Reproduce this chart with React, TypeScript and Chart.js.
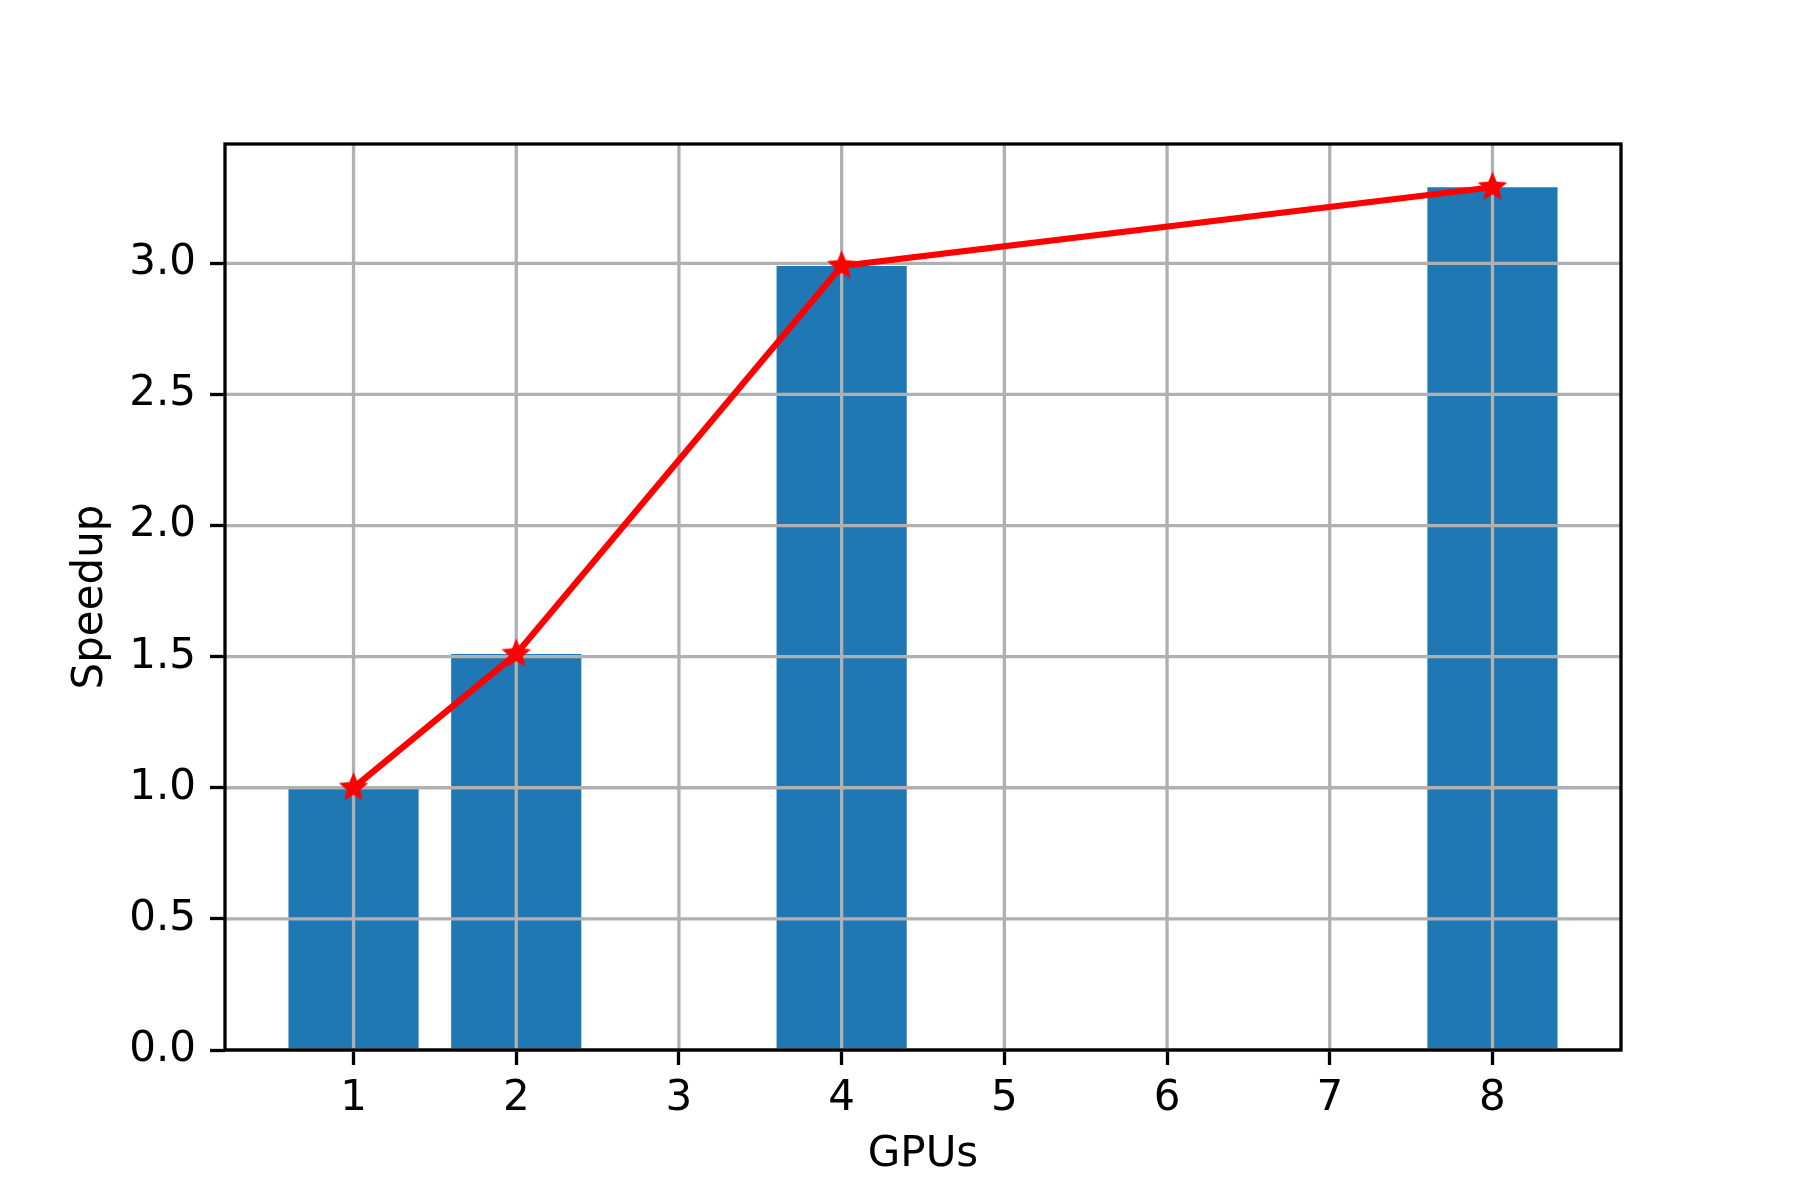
import React, { useEffect, useRef } from "react";
import { Chart, registerables } from "chart.js";

Chart.register(...registerables);

// ---- data ----
const gpus = [1, 2, 4, 8];
const barSpeedup = [1.0, 1.51, 2.99, 3.29];
const lineSpeedup = [1.0, 1.51, 2.99, 3.29];
const xTickValues = [1, 2, 3, 4, 5, 6, 7, 8];
const yTickValues = [0, 0.5, 1.0, 1.5, 2.0, 2.5, 3.0];
const xLabel = "GPUs";
const yLabel = "Speedup";

const FONT = "'DejaVu Sans', 'Liberation Sans', sans-serif";
const LW = 3.3;

function makeStar(color: string, outerR: number, innerR: number) {
  const size = Math.ceil(outerR * 2 + 4);
  const c = document.createElement("canvas");
  c.width = size;
  c.height = size;
  const ctx = c.getContext("2d")!;
  ctx.translate(size / 2, size / 2);
  ctx.beginPath();
  for (let i = 0; i < 10; i++) {
    const r = i % 2 === 0 ? outerR : innerR;
    const a = -Math.PI / 2 + (i * Math.PI) / 5;
    ctx.lineTo(r * Math.cos(a), r * Math.sin(a));
  }
  ctx.closePath();
  ctx.fillStyle = color;
  ctx.fill();
  return c;
}

const mplPlugin = {
  id: "mplGridFrame",
  afterDatasetDraw(chart: any, args: any) {
    if (args.index !== 0) return; // after bars, before line
    const { ctx, chartArea: a, scales } = chart;
    const x = scales.x;
    const y = scales.y;
    ctx.save();
    ctx.strokeStyle = "#b0b0b0";
    ctx.lineWidth = LW;
    ctx.beginPath();
    for (const v of xTickValues) {
      const px = x.getPixelForValue(v);
      ctx.moveTo(px, a.top);
      ctx.lineTo(px, a.bottom);
    }
    for (const v of yTickValues) {
      const py = y.getPixelForValue(v);
      ctx.moveTo(a.left, py);
      ctx.lineTo(a.right, py);
    }
    ctx.stroke();
    ctx.restore();
  },
  afterDatasetsDraw(chart: any) {
    const { ctx, chartArea: a } = chart;
    ctx.save();
    ctx.strokeStyle = "#000";
    ctx.lineWidth = LW;
    ctx.strokeRect(a.left, a.top, a.right - a.left, a.bottom - a.top);
    ctx.restore();
  },
};

export default function App() {
  const ref = useRef<HTMLCanvasElement | null>(null);

  useEffect(() => {
    document.body.style.margin = "0";
    const canvas = ref.current!;
    const star = makeStar("#ff0000", 15.5, 7);
    const tickFont = { family: FONT, size: 42 };

    const chart = new Chart(canvas, {
      type: "bar",
      data: {
        datasets: [
          {
            type: "bar",
            label: "bars",
            data: gpus.map((g, i) => ({ x: g, y: barSpeedup[i] })),
            backgroundColor: "#1f77b4",
            borderWidth: 0,
            barPercentage: 0.8,
            categoryPercentage: 1.0,
            order: 1,
          } as any,
          {
            type: "line",
            label: "line",
            data: gpus.map((g, i) => ({ x: g, y: lineSpeedup[i] })),
            borderColor: "#ff0000",
            borderWidth: 6.25,
            pointStyle: star as any,
            pointRadius: 12,
            pointBackgroundColor: "#ff0000",
            pointBorderColor: "#ff0000",
            fill: false,
            tension: 0,
            order: 0,
          } as any,
        ],
      },
      options: {
        responsive: false,
        animation: false,
        devicePixelRatio: 1,
        layout: { padding: { left: 0, top: 144, right: 179, bottom: 0 } },
        plugins: {
          legend: { display: false },
          tooltip: { enabled: false },
        },
        scales: {
          x: {
            type: "linear",
            min: 0.21,
            max: 8.79,
            offset: false,
            grid: {
              display: true,
              drawOnChartArea: false,
              drawTicks: true,
              tickLength: 15,
              tickWidth: LW,
              tickColor: "#000",
              offset: false,
            },
            border: { display: false },
            ticks: {
              font: tickFont,
              color: "#000",
              padding: 9,
              autoSkip: false,
              maxRotation: 0,
              callback: (v: any) => String(v),
            },
            afterBuildTicks: (s: any) => {
              s.ticks = xTickValues.map((v) => ({ value: v }));
            },
            afterFit: (s: any) => {
              s.height = 150;
            },
            title: {
              display: true,
              text: xLabel,
              font: tickFont,
              color: "#000",
              padding: { top: 0, bottom: 20 },
            },
          } as any,
          y: {
            type: "linear",
            min: 0,
            max: 3.455,
            grid: {
              display: true,
              drawOnChartArea: false,
              drawTicks: true,
              tickLength: 15,
              tickWidth: LW,
              tickColor: "#000",
            },
            border: { display: false },
            ticks: {
              font: tickFont,
              color: "#000",
              padding: 14,
              callback: (v: any) => Number(v).toFixed(1),
            },
            afterBuildTicks: (s: any) => {
              s.ticks = yTickValues.map((v) => ({ value: v }));
            },
            afterFit: (s: any) => {
              s.width = 225;
            },
            title: {
              display: true,
              text: yLabel,
              font: tickFont,
              color: "#000",
              padding: { top: 66, bottom: 0 },
            },
          } as any,
        },
      },
      plugins: [mplPlugin],
    });
    return () => chart.destroy();
  }, []);

  return (
    <div style={{ width: 1800, height: 1200, background: "#fff" }}>
      <canvas ref={ref} width={1800} height={1200} />
    </div>
  );
}
